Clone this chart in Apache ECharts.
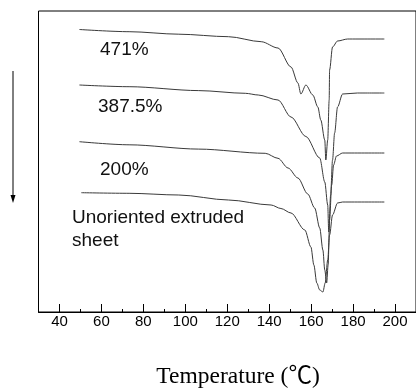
<!DOCTYPE html>
<html>
<head>
<meta charset="utf-8">
<script src="https://cdn.jsdelivr.net/npm/echarts@6/dist/echarts.min.js"></script>
<style>
  html, body { margin: 0; padding: 0; background: #fff; }
  #chart { width: 416px; height: 390px; }
</style>
</head>
<body>
<div id="chart"></div>
<script>
// Temperature (°C) and heat flow (arbitrary units, endo down)
const t471 = [49.5, 73.2, 96.9, 120.6, 136.2, 144.2, 150.4, 153.7, 155.1, 157.5, 160.8, 163.2, 164.6, 166.5, 167.0, 167.9, 168.6, 168.8, 170.2, 172.6, 177.4, 194.9];
const v471 = [282.5, 280.3, 277.8, 275.3, 270.3, 264, 245, 229, 218, 227, 217, 205, 192, 172, 152, 172, 212, 242, 265, 271, 273, 273];

const t387 = [49.5, 73.2, 106.4, 128.6, 134.8, 144.2, 150.4, 157.5, 164.1, 166.5, 167.9, 168.4, 169.3, 170.2, 171.2, 172.6, 175.0, 182.1, 194.9];
const v387 = [227, 225.3, 221.4, 218.7, 217, 212, 195, 175.5, 154, 130, 107, 80, 117, 152, 179, 205, 218, 219, 219];

const t200 = [49.5, 73.2, 106.4, 138.1, 144.2, 149.0, 153.7, 158.4, 161.7, 164.1, 165.6, 166.5, 167.4, 168.1, 168.8, 169.8, 170.7, 172.1, 175.0, 194.9];
const v200 = [170.3, 167.2, 162.9, 158.7, 153.7, 144, 134, 118, 104, 84, 62, 42, 29, 47, 92, 127, 147, 156, 159, 159];

const tUno = [50.4, 73.2, 96.9, 120.6, 140.9, 145.6, 150.4, 157.0, 159.9, 161.3, 162.7, 164.1, 165.6, 166.7, 167.9, 168.8, 170.2, 172.6, 175.0, 194.9];
const vUno = [119.3, 118.7, 117, 112, 107, 103.5, 99, 82, 65, 47, 29, 22, 20, 29, 52, 77, 97, 109, 110, 110];

const curveLabels = ['471%', '387.5%', '200%', 'Unoriented extruded', 'sheet'];
const majorTicks = [40, 60, 80, 100, 120, 140, 160, 180, 200];
const minorTicks = [50, 70, 90, 110, 130, 150, 170, 190];
const xTitle = 'Temperature (℃)';

function zip(t, v) { return t.map((x, i) => [x, v[i]]); }

const chart = echarts.init(document.getElementById('chart'), null, { renderer: 'canvas' });

const lineSeries = (name, t, v) => ({
  name, type: 'line', data: zip(t, v), showSymbol: false, symbol: 'none',
  smooth: 0.3, smoothMonotone: 'x',
  lineStyle: { color: '#3a3a3a', width: 1 }, animation: false
});

const option = {
  animation: false,
  backgroundColor: '#fff',
  grid: { left: 38.5, right: -3, top: 11, bottom: 78, show: true, borderColor: '#000', borderWidth: 1 },
  xAxis: [
    {
      type: 'value', min: 30, max: 210, position: 'bottom',
      axisLine: { show: true, lineStyle: { color: '#000', width: 1 } },
      axisTick: { show: true, inside: true, length: 8, lineStyle: { color: '#000' }, customValues: majorTicks },
      axisLabel: { show: true, margin: 2, color: '#000', fontFamily: 'Liberation Sans', fontSize: 15, customValues: majorTicks },
      splitLine: { show: false }
    },
    {
      type: 'value', min: 30, max: 210, position: 'bottom',
      axisLine: { show: false },
      axisTick: { show: true, inside: true, length: 3, lineStyle: { color: '#000' }, customValues: minorTicks },
      axisLabel: { show: false },
      splitLine: { show: false }
    }
  ],
  yAxis: {
    type: 'value', min: 0, max: 301,
    axisLine: { show: false }, axisTick: { show: false }, axisLabel: { show: false }, splitLine: { show: false }
  },
  series: [
    lineSeries('471%', t471, v471),
    lineSeries('387.5%', t387, v387),
    lineSeries('200%', t200, v200),
    lineSeries('Unoriented extruded sheet', tUno, vUno)
  ],
  graphic: [
    { type: 'text', x: 100, y: 50, style: { text: curveLabels[0], fill: '#111', font: '19px "Liberation Sans"', verticalAlign: 'middle' } },
    { type: 'text', x: 98, y: 107, style: { text: curveLabels[1], fill: '#111', font: '19px "Liberation Sans"', verticalAlign: 'middle' } },
    { type: 'text', x: 100, y: 170, style: { text: curveLabels[2], fill: '#111', font: '19px "Liberation Sans"', verticalAlign: 'middle' } },
    { type: 'text', x: 72, y: 218, style: { text: curveLabels[3], fill: '#111', font: '19px "Liberation Sans"', verticalAlign: 'middle' } },
    { type: 'text', x: 72, y: 241, style: { text: curveLabels[4], fill: '#111', font: '19px "Liberation Sans"', verticalAlign: 'middle' } },
    { type: 'text', x: 238, y: 377, style: { text: xTitle, fill: '#000', font: '23.5px "Liberation Serif", "Noto Sans CJK SC"', align: 'center', verticalAlign: 'middle' } },
    { type: 'line', shape: { x1: 13, y1: 71, x2: 13, y2: 197 }, style: { stroke: '#000', lineWidth: 1 } },
    { type: 'polygon', shape: { points: [[10.5, 195], [15.5, 195], [13, 203]] }, style: { fill: '#000' } }
  ]
};
chart.setOption(option);
</script>
</body>
</html>
